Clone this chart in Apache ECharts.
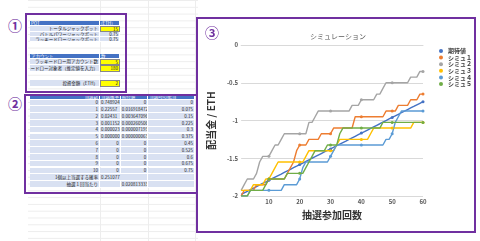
<!DOCTYPE html>
<html>
<head>
<meta charset="UTF-8">
<title>シミュレーション</title>
<style>
body{margin:0;width:480px;height:241px;position:relative;overflow:hidden;background:#fff;font-family:"Noto Sans CJK JP",sans-serif;}
.sheet{position:absolute;left:28px;top:0;width:170px;height:241px;background-image:linear-gradient(#ededed 1px,transparent 1px);background-size:100% 6.8px;}
.vl{position:absolute;top:0;height:241px;width:1px;background:#ededed;}
.box{position:absolute;border:2px solid #7030A0;box-sizing:border-box;}
.num{position:absolute;color:#7030A0;font-weight:bold;font-size:14px;line-height:14px;}
.row{position:absolute;display:flex;font-size:4.5px;line-height:1;color:#222;}
.row div{box-sizing:border-box;overflow:hidden;white-space:nowrap;padding:0 1px;display:flex;align-items:center;justify-content:flex-end;border-right:1px solid #fff;border-bottom:1px solid #fff;background:#D9E1F2;height:100%;}
.row.hd div{background:#4472C4;color:#fff;}
.row div.hl{justify-content:flex-start;}
.row div.y{background:#FFFF00;border:1px solid #888;}
#chart{position:absolute;left:198px;top:19px;width:276px;height:212px;}
</style>
</head>
<body>
<div class="sheet"></div>
<div class="vl" style="left:100px"></div>
<div class="vl" style="left:148px"></div>
<div class="vl" style="left:195px"></div>
<div id="tables"></div>
<div class="box" style="left:25px;top:13px;width:102px;height:80px"></div>
<div class="box" style="left:24px;top:94px;width:174px;height:100px"></div>
<div class="box" style="left:196px;top:17px;width:280px;height:216px;background:#fff"></div>
<div class="num" style="left:8px;top:18px">①</div>
<div class="num" style="left:8px;top:96px">②</div>
<div id="chart"></div>
<div class="num" style="left:205px;top:25px">③</div>
<script src="https://cdn.jsdelivr.net/npm/echarts@6/dist/echarts.min.js"></script>
<script>
// ① 入力表
var potLabels = ['トータルジャックポット', 'バトルパワージャックポット', 'ラッキードロージャックポット'];
var potValues = ['15', '0.75', '0.75'];
var accLabels = ['ラッキードロー用アカウント数', 'ラッキードロー対象者（推定値を入力）'];
var accValues = ['5', '180'];
var investLabel = '投資金額（ETH）';
var investValue = '2';

// ② 当選確率表
var winCounts = ['0', '1', '2', '3', '4', '5', '6', '7', '8', '9', '10'];
var winProb = ['0.748924', '0.22557', '0.02431', '0.001152', '0.000023', '0.000000', '0', '0', '0', '0', '0'];
var winEV = ['0', '0.016918472', '0.003647096', '0.000260506', '0.000007193', '0.000000063', '0', '0', '0', '0', '0'];
var winPay = ['0', '0.075', '0.15', '0.225', '0.3', '0.375', '0.45', '0.525', '0.6', '0.675', '0.75'];
var probAny = '0.251077';
var evPerDraw = '0.020813333';

// ③ シミュレーション
var seriesNames = ['期待値', 'シミュ１', 'シミュ２', 'シミュ３', 'シミュ４', 'シミュ５'];
var colors = ['#4472C4', '#ED7D31', '#A5A5A5', '#FFC000', '#5B9BD5', '#70AD47'];
var expected = [-1.979, -1.958, -1.938, -1.917, -1.896, -1.875, -1.854, -1.833, -1.813, -1.792,
  -1.771, -1.750, -1.729, -1.709, -1.688, -1.667, -1.646, -1.625, -1.605, -1.584,
  -1.563, -1.542, -1.521, -1.500, -1.480, -1.459, -1.438, -1.417, -1.396, -1.376,
  -1.355, -1.334, -1.313, -1.292, -1.272, -1.251, -1.230, -1.209, -1.188, -1.167,
  -1.147, -1.126, -1.105, -1.084, -1.063, -1.043, -1.022, -1.001, -0.980, -0.959,
  -0.939, -0.918, -0.897, -0.876, -0.855, -0.834, -0.814, -0.793, -0.772, -0.751];
var sim1 = [-2, -1.925, -1.925, -1.925, -1.925, -1.85, -1.85, -1.85, -1.85, -1.775,
  -1.775, -1.775, -1.775, -1.775, -1.775, -1.7, -1.625, -1.55, -1.4, -1.325,
  -1.325, -1.325, -1.25, -1.25, -1.25, -1.25, -1.175, -1.175, -1.175, -1.175,
  -1.1, -1.1, -1.1, -1.1, -1.1, -1.1, -1.1, -0.95, -0.95, -0.95,
  -0.95, -0.95, -0.95, -0.95, -0.95, -0.95, -0.95, -0.875, -0.875, -0.875,
  -0.875, -0.8, -0.8, -0.8, -0.8, -0.725, -0.725, -0.725, -0.65, -0.65];
var sim2 = [-1.925, -1.85, -1.775, -1.775, -1.775, -1.7, -1.55, -1.475, -1.475, -1.475,
  -1.4, -1.325, -1.325, -1.25, -1.175, -1.175, -1.175, -1.175, -1.175, -1.175,
  -1.175, -1.175, -1.025, -1.025, -0.95, -0.875, -0.875, -0.875, -0.875, -0.875,
  -0.875, -0.875, -0.875, -0.875, -0.875, -0.875, -0.8, -0.8, -0.8, -0.725,
  -0.725, -0.725, -0.725, -0.725, -0.65, -0.65, -0.575, -0.5, -0.5, -0.5,
  -0.5, -0.5, -0.5, -0.5, -0.5, -0.425, -0.425, -0.425, -0.35, -0.35];
var sim3 = [-1.925, -1.925, -1.925, -1.925, -1.85, -1.85, -1.85, -1.85, -1.775, -1.775,
  -1.7, -1.625, -1.55, -1.55, -1.55, -1.55, -1.55, -1.55, -1.55, -1.55,
  -1.55, -1.475, -1.4, -1.4, -1.4, -1.4, -1.4, -1.4, -1.4, -1.4,
  -1.4, -1.325, -1.25, -1.25, -1.25, -1.25, -1.25, -1.25, -1.25, -1.25,
  -1.25, -1.25, -1.175, -1.1, -1.1, -1.1, -1.1, -1.1, -1.1, -1.1,
  -1.1, -1.1, -1.1, -1.1, -1.1, -1.1, -1.025, -1.025, -1.025, -1.025];
var sim4 = [-2, -2, -2, -1.925, -1.925, -1.925, -1.925, -1.925, -1.925, -1.925,
  -1.925, -1.925, -1.925, -1.925, -1.85, -1.85, -1.85, -1.85, -1.85, -1.775,
  -1.625, -1.55, -1.55, -1.55, -1.55, -1.55, -1.55, -1.55, -1.55, -1.475,
  -1.4, -1.325, -1.325, -1.325, -1.325, -1.325, -1.325, -1.325, -1.325, -1.325,
  -1.325, -1.325, -1.325, -1.325, -1.325, -1.325, -1.325, -1.25, -1.25, -1.175,
  -1.025, -0.95, -0.875, -0.875, -0.875, -0.875, -0.875, -0.875, -0.875, -0.875];
var sim5 = [-2, -2, -2, -1.925, -1.925, -1.925, -1.925, -1.925, -1.85, -1.775,
  -1.775, -1.775, -1.775, -1.775, -1.775, -1.7, -1.7, -1.7, -1.7, -1.7,
  -1.7, -1.625, -1.55, -1.475, -1.4, -1.4, -1.4, -1.4, -1.325, -1.325,
  -1.325, -1.325, -1.175, -1.1, -1.1, -1.1, -1.1, -1.1, -1.1, -1.1,
  -1.1, -1.1, -1.1, -1.1, -1.1, -1.1, -1.025, -1.025, -1.025, -1.025,
  -1.025, -1.025, -1.025, -1.025, -1.025, -1.025, -1.025, -1.025, -1.025, -1.025];
var seriesData = [expected, sim1, sim2, sim3, sim4, sim5];
var draws = [];
for (var i = 1; i <= 60; i++) draws.push(String(i));

// 表の描画
var host = document.getElementById('tables');
function addRow(x, y, h, widths, texts, cls, cellCls) {
  var r = document.createElement('div');
  r.className = 'row' + (cls ? ' ' + cls : '');
  r.style.left = x + 'px'; r.style.top = y + 'px'; r.style.height = h + 'px';
  for (var k = 0; k < widths.length; k++) {
    var c = document.createElement('div');
    c.style.width = widths[k] + 'px';
    if (cellCls && cellCls[k]) c.className = cellCls[k];
    c.textContent = texts[k];
    r.appendChild(c);
  }
  host.appendChild(r);
}
var w1 = [70, 20];
addRow(30, 21, 5.3, w1, ['POT', '(ETH)'], 'hd', ['hl', 'hl']);
for (var i = 0; i < potLabels.length; i++) {
  addRow(30, 26.3 + i * 5.3, 5.3, w1, [potLabels[i], potValues[i]], '', ['', i === 0 ? 'y' : '']);
}
addRow(30, 54, 5.3, w1, ['アカウント', '数'], 'hd', ['hl', 'hl']);
addRow(30, 59.3, 5.6, w1, [accLabels[0], accValues[0]], '', ['', 'y']);
addRow(30, 64.9, 7, w1, [accLabels[1], accValues[1]], '', ['', 'y']);
addRow(30, 80, 6.5, w1, [investLabel, investValue], '', ['', 'y']);

var w2 = [70, 20.7, 27.6, 46.7];
addRow(30, 94.5, 5, w2, ['当選数', '当選確率', '期待値', '当選時の配当'], 'hd', ['', 'hl', 'hl', 'hl']);
for (var i = 0; i < winCounts.length; i++) {
  addRow(30, 99.5 + i * 6.8, 6.8, w2, [winCounts[i], winProb[i], winEV[i], winPay[i]], '',
    ['', winProb[i].length > 4 ? 'hl' : '', winEV[i].length > 4 ? 'hl' : '', '']);
}
addRow(30, 99.5 + 11 * 6.8, 6.8, [70, 48.3, 46.7], ['1個以上当選する確率', probAny, ''], '', ['', 'hl', '']);
addRow(30, 99.5 + 12 * 6.8, 6.8, w2, ['抽選１回当たり', '', evPerDraw, ''], '', ['', '', 'hl', '']);

// グラフ
var chart = echarts.init(document.getElementById('chart'));
var series = [];
for (var s = 0; s < seriesNames.length; s++) {
  series.push({
    name: seriesNames[s],
    type: 'line',
    data: seriesData[s],
    symbol: 'circle',
    symbolSize: 3,
    lineStyle: { width: 1.4, color: colors[s] },
    itemStyle: { color: colors[s] }
  });
}
chart.setOption({
  animation: false,
  backgroundColor: '#fff',
  color: colors,
  textStyle: { fontFamily: '"Noto Sans CJK JP", sans-serif' },
  title: {
    text: 'シミュレーション',
    left: 107,
    top: 9,
    textStyle: { fontSize: 7, fontWeight: 'normal', color: '#595959' }
  },
  legend: {
    orient: 'vertical',
    left: 236,
    top: 24,
    icon: 'circle',
    itemWidth: 4,
    itemHeight: 4,
    itemGap: 0.6,
    textStyle: { fontSize: 6, lineHeight: 6, color: '#404040', fontWeight: 'bold' },
    data: seriesNames
  },
  grid: { left: 40, right: 51, top: 26, bottom: 35 },
  xAxis: {
    type: 'category',
    boundaryGap: false,
    data: draws,
    axisLine: { lineStyle: { color: '#d9d9d9' } },
    axisTick: { show: false },
    axisLabel: {
      interval: function (idx, val) { return Number(val) % 10 === 0; },
      fontSize: 6, fontWeight: 'bold', color: '#595959', margin: 3
    },
    name: '抽選参加回数',
    nameLocation: 'middle',
    nameGap: 13,
    nameTextStyle: { fontSize: 10, fontWeight: 'bold', color: '#333' }
  },
  yAxis: {
    type: 'value',
    min: -2,
    max: 0,
    interval: 0.5,
    axisLine: { show: false },
    axisTick: { show: false },
    splitLine: { lineStyle: { color: '#d9d9d9' } },
    axisLabel: { fontSize: 6, fontWeight: 'bold', color: '#595959', margin: 3 },
    name: '配当金 / ETH',
    nameLocation: 'middle',
    nameRotate: 90,
    nameGap: 20,
    nameTextStyle: { fontSize: 10, fontWeight: 'bold', color: '#333' }
  },
  series: series
});
</script>
</body>
</html>
